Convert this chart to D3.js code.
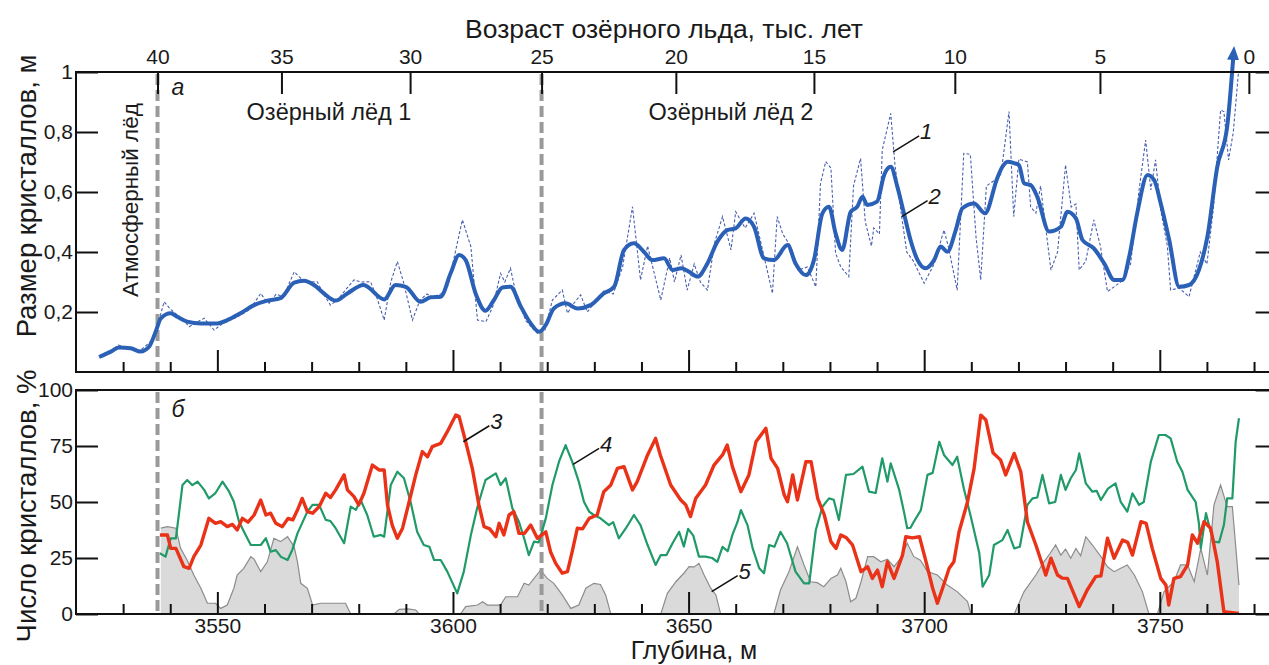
<!DOCTYPE html>
<html><head><meta charset="utf-8">
<script src="https://cdn.jsdelivr.net/npm/d3@7"></script>
<style>html,body{margin:0;padding:0;background:#fff;}svg{display:block;font-family:"Liberation Sans",Arial,sans-serif;}</style>
</head><body>
<svg id="chart" width="1269" height="665"></svg>
<script>
// ---------- DATA ----------
// Age scale (thousand years) and the depths (m) at which those ages fall
const ageTicks  = [40, 35, 30, 25, 20, 15, 10, 5, 0];
const ageDepths = [3537.3, 3563.6, 3590.9, 3618.8, 3647.3, 3676.6, 3706.5, 3737.3, 3768.9];
const boundaryAges = [40, 25];

const majorDepthTicks = [3550, 3600, 3650, 3700, 3750];
const minorDepthTicks = [3530,3540,3560,3570,3580,3590,3610,3620,3630,3640,3660,3670,3680,3690,3710,3720,3730,3740,3760,3770];
const sizeTicks = [0.2, 0.4, 0.6, 0.8, 1];
const pctTicks = [0, 25, 50, 75, 100];

// Series 2: smoothed crystal size (m)
const smoothDepth = [3524.9,3527.4,3529.1,3531.6,3533.7,3535.5,3536.9,3538.0,3540.1,3541.5,3543.6,3546.5,3550.0,3552.1,3554.9,3557.8,3560.6,3563.4,3566.3,3568.4,3570.5,3572.6,3575.1,3577.6,3581.0,3585.4,3587.8,3590.0,3593.1,3595.3,3597.4,3599.5,3601.3,3602.7,3604.8,3606.9,3608.7,3610.5,3612.2,3614.4,3616.5,3618.3,3619.7,3621.4,3623.9,3626.4,3629.2,3632.0,3634.2,3636.3,3638.4,3640.5,3642.3,3644.8,3646.6,3648.5,3650.1,3651.9,3654.0,3656.1,3658.2,3660.0,3662.1,3663.9,3666.0,3668.1,3671.0,3672.7,3674.9,3676.6,3678.4,3679.8,3681.2,3682.6,3684.4,3685.8,3686.9,3687.9,3690.0,3691.5,3692.9,3694.3,3695.7,3697.1,3698.6,3700.3,3702.1,3703.5,3704.9,3706.7,3708.1,3710.6,3712.9,3715.5,3716.6,3717.7,3719.1,3720.1,3721.2,3722.6,3724.0,3726.5,3729.0,3730.4,3732.2,3733.6,3736.0,3738.2,3740.3,3742.1,3743.5,3745.2,3747.4,3748.8,3750.2,3752.0,3754.1,3756.2,3758.3,3760.1,3762.2,3764.3,3765.6];
const smoothSize  = [0.05,0.068,0.082,0.079,0.068,0.084,0.134,0.179,0.196,0.184,0.168,0.162,0.162,0.173,0.196,0.223,0.238,0.246,0.298,0.304,0.29,0.262,0.238,0.262,0.29,0.242,0.29,0.284,0.234,0.249,0.251,0.329,0.39,0.373,0.262,0.204,0.24,0.282,0.284,0.218,0.162,0.134,0.157,0.212,0.229,0.212,0.223,0.262,0.284,0.407,0.429,0.401,0.373,0.379,0.34,0.346,0.334,0.318,0.362,0.434,0.473,0.479,0.512,0.484,0.379,0.373,0.423,0.362,0.323,0.373,0.529,0.551,0.462,0.407,0.534,0.551,0.584,0.557,0.568,0.657,0.684,0.618,0.529,0.44,0.373,0.346,0.373,0.418,0.401,0.473,0.546,0.562,0.529,0.646,0.684,0.701,0.696,0.69,0.629,0.623,0.584,0.468,0.484,0.534,0.512,0.44,0.412,0.362,0.307,0.307,0.384,0.529,0.657,0.64,0.562,0.44,0.284,0.29,0.34,0.451,0.684,0.818,1.05];

// Series 1: measured crystal size (m)
const rawDepth = [3525.5,3527.5,3529.0,3531.0,3533.5,3535.0,3536.5,3538.7,3540.0,3541.5,3543.0,3544.0,3545.5,3547.2,3549.3,3551.0,3553.0,3555.0,3557.0,3559.2,3560.2,3561.0,3562.5,3564.0,3566.3,3568.5,3570.0,3571.2,3572.5,3574.0,3575.5,3577.0,3579.0,3580.5,3582.5,3583.8,3585.4,3586.8,3588.2,3589.5,3591.4,3593.0,3594.5,3595.5,3597.4,3599.0,3600.5,3602.0,3603.8,3605.2,3607.0,3608.5,3610.1,3611.0,3612.2,3613.5,3615.5,3617.9,3619.5,3621.1,3623.2,3624.3,3625.7,3627.1,3628.5,3630.0,3632.0,3634.0,3636.0,3638.1,3639.8,3641.3,3644.1,3646.0,3647.0,3648.4,3649.7,3651.2,3652.5,3654.0,3655.5,3657.2,3659.0,3660.0,3662.0,3663.9,3665.8,3667.8,3668.8,3670.0,3671.6,3673.4,3675.2,3677.0,3678.0,3679.1,3680.2,3681.2,3682.3,3684.0,3685.0,3686.5,3687.5,3688.8,3689.3,3690.5,3691.1,3692.9,3693.8,3695.2,3696.3,3697.7,3700.0,3702.1,3704.2,3705.1,3707.0,3708.4,3709.8,3711.0,3712.0,3713.2,3715.0,3716.3,3718.0,3719.0,3720.1,3721.9,3722.6,3723.7,3724.7,3726.9,3728.3,3730.0,3731.2,3732.2,3732.9,3734.3,3736.0,3737.4,3738.9,3741.7,3743.8,3745.6,3747.0,3748.1,3749.1,3750.2,3751.6,3752.3,3754.1,3756.2,3758.6,3760.0,3761.4,3762.9,3763.6,3764.6,3765.6,3766.7];
const rawSize  = [0.05,0.07,0.09,0.08,0.07,0.09,0.11,0.234,0.21,0.19,0.17,0.151,0.165,0.179,0.14,0.16,0.175,0.19,0.21,0.262,0.24,0.229,0.26,0.25,0.334,0.30,0.30,0.301,0.26,0.223,0.24,0.27,0.307,0.30,0.301,0.25,0.173,0.30,0.368,0.30,0.173,0.24,0.26,0.25,0.26,0.29,0.40,0.507,0.418,0.173,0.168,0.22,0.329,0.30,0.346,0.25,0.17,0.129,0.14,0.24,0.273,0.196,0.23,0.257,0.20,0.23,0.27,0.26,0.35,0.551,0.307,0.42,0.24,0.38,0.30,0.39,0.273,0.36,0.30,0.273,0.43,0.518,0.407,0.534,0.48,0.529,0.40,0.262,0.518,0.46,0.42,0.34,0.35,0.284,0.629,0.701,0.68,0.396,0.35,0.318,0.62,0.712,0.50,0.42,0.48,0.46,0.74,0.862,0.69,0.52,0.40,0.37,0.296,0.36,0.473,0.42,0.273,0.729,0.725,0.45,0.307,0.62,0.64,0.66,0.868,0.518,0.71,0.70,0.55,0.53,0.62,0.34,0.40,0.69,0.55,0.56,0.34,0.37,0.507,0.42,0.268,0.30,0.36,0.607,0.773,0.607,0.707,0.54,0.42,0.273,0.28,0.251,0.40,0.36,0.55,0.873,0.868,0.707,0.80,1.0];

// Series 3 (red), %
const redDepth = [3537.8,3539.4,3540.1,3541.2,3542.9,3544.0,3545.0,3546.5,3548.2,3549.6,3550.7,3552.1,3553.2,3554.2,3555.3,3556.5,3557.8,3559.2,3560.3,3561.3,3562.4,3563.8,3565.0,3566.0,3567.0,3568.0,3569.1,3570.2,3571.6,3573.0,3574.0,3575.1,3576.9,3577.6,3579.0,3580.0,3581.1,3582.9,3584.3,3585.4,3586.1,3587.1,3588.2,3589.3,3590.7,3592.1,3593.5,3594.6,3595.6,3597.4,3598.8,3600.6,3601.3,3602.7,3604.1,3605.5,3606.6,3607.8,3609.1,3609.8,3610.8,3611.9,3612.9,3614.0,3615.2,3616.5,3617.9,3619.7,3620.7,3621.8,3623.2,3624.3,3625.3,3626.4,3627.5,3628.9,3630.6,3632.0,3633.5,3634.9,3636.3,3638.1,3639.1,3641.3,3643.0,3644.0,3646.2,3648.3,3649.4,3650.4,3651.5,3653.6,3655.4,3657.2,3658.2,3659.3,3661.1,3662.8,3664.3,3666.4,3667.5,3668.9,3670.3,3671.0,3672.1,3673.1,3674.9,3676.0,3677.4,3678.8,3680.2,3681.3,3682.3,3683.5,3684.8,3686.6,3688.0,3689.0,3690.1,3691.1,3692.2,3693.6,3695.4,3696.1,3697.5,3699.0,3700.4,3701.8,3702.8,3703.9,3705.3,3706.3,3707.4,3709.2,3710.6,3712.0,3713.1,3714.6,3716.2,3717.3,3719.1,3720.5,3721.9,3723.7,3725.8,3726.9,3728.3,3729.3,3730.4,3732.9,3734.6,3736.4,3737.5,3738.9,3740.3,3742.1,3743.2,3744.2,3746.0,3747.1,3748.4,3750.2,3751.3,3751.9,3753.0,3754.4,3755.9,3756.9,3758.0,3759.4,3760.8,3762.2,3763.6,3766.8];
const redPct   = [35.3,35.3,29.3,29.3,21.1,20.4,25.6,30.8,42.7,40.5,41.2,39,40,37.5,42.7,41,44.2,50.9,44.2,45,40.5,39,42.7,42,46.4,51.6,45.7,45,47.9,53.9,52,55.4,62.1,55.4,52.4,48.7,53.9,66.5,64.3,64.3,48.7,39.7,33.8,38.3,50.1,62.1,72.5,70.2,74.7,76.2,81.4,88.8,88.1,76.9,65,48.7,39,38,34.5,40.5,35.3,44.2,45.7,36,36,39.7,33.8,36.7,27.8,22.6,18.2,18.9,27.8,38.3,38,42.7,44.2,54.6,57.6,65,65.8,55.4,59.1,71,78.4,71,57.6,51,48.7,43.5,51.6,57.6,66.5,71,75.4,65.8,54.6,62.1,76.9,82.9,69.5,65,53.1,50.1,62.1,50.9,68,68,51.6,44.2,32.3,29.3,35.3,34,30.8,18.9,21.1,15.9,19.6,12.2,23.3,15.9,26.3,34.5,34,34.5,23.3,11.5,4.8,11.5,20.4,23.3,36.7,50.1,65,88.8,86.6,72,68.8,62.1,71.7,63.5,41.2,30.8,17.4,24.9,17.4,16,15.9,3.3,10.7,16.7,17,33.8,24.9,33,32,26.3,41.2,40.5,29.3,15.9,12.9,4,15.9,16.7,21.9,35.3,31.6,41.2,38.3,23.3,1,0.3];

// Series 4 (green), %
const greenDepth = [3537.8,3539.0,3540.1,3541.2,3542.6,3543.6,3544.7,3545.8,3547.2,3548.2,3549.6,3551.1,3552.5,3553.5,3554.6,3556.0,3557.1,3559.2,3560.3,3561.3,3562.4,3563.5,3564.9,3565.9,3567.0,3569.1,3570.2,3571.6,3573.0,3574.0,3575.1,3576.9,3578.3,3579.4,3580.4,3581.8,3583.2,3584.7,3585.4,3586.8,3588.2,3589.6,3591.0,3592.4,3593.8,3595.0,3596.0,3597.4,3598.8,3600.9,3602.3,3603.8,3605.2,3606.9,3609.1,3610.1,3611.2,3612.6,3614.0,3615.1,3616.1,3617.2,3618.2,3619.7,3621.1,3622.5,3623.9,3625.3,3626.7,3627.8,3628.9,3629.9,3631.3,3633.1,3634.0,3635.2,3636.7,3638.4,3639.8,3641.3,3643.0,3644.1,3645.3,3646.6,3648.0,3649.0,3649.9,3651.0,3652.2,3653.6,3655.0,3656.1,3657.2,3658.3,3659.3,3660.4,3661.1,3662.5,3663.6,3665.0,3666.0,3667.1,3668.2,3669.5,3670.9,3672.7,3674.5,3675.6,3677.0,3678.4,3679.8,3680.8,3681.9,3683.4,3685.0,3686.9,3688.3,3689.7,3691.1,3692.2,3692.9,3694.7,3695.7,3696.4,3697.1,3697.8,3699.3,3700.7,3701.8,3703.2,3704.2,3706.0,3707.0,3708.4,3709.9,3711.7,3712.4,3713.8,3714.8,3716.6,3717.7,3719.1,3720.3,3721.9,3723.0,3724.0,3725.1,3726.5,3727.8,3729.0,3730.0,3731.1,3732.2,3732.9,3734.3,3735.7,3736.6,3737.5,3739.0,3740.6,3741.7,3743.1,3744.2,3745.6,3746.6,3748.1,3749.8,3751.2,3752.3,3753.7,3754.8,3755.9,3757.6,3758.3,3758.7,3759.8,3760.8,3761.5,3762.6,3763.6,3764.3,3765.4,3766.1,3766.8];
const greenPct   = [27.1,25.6,33.8,33.8,57.6,59.8,57.5,59.1,55.4,51.6,54,59.1,54.6,50.1,41.2,35.3,30.8,30.8,33.8,27.8,28.5,25.5,24.1,28.6,36,45.7,48.7,48.7,42,41.5,38.3,31.6,47.9,46.5,50.9,44.2,34.5,35.3,34.5,57.6,63.5,60.6,50.1,36.7,30.8,30,24.1,24.1,18.9,9.2,18.9,35.3,47.9,59.8,62.8,57.6,60.6,47.2,41.2,33.8,26.3,32.3,32,42.7,57.6,68,75.4,68,59.1,50.1,45.7,44.2,42.7,39.7,41,33.8,38.3,44.2,39.7,30.8,21.9,26.3,26.3,31.6,36.7,30.1,38,35,25.6,25.6,25,23.3,30,28,35.3,41.2,46.4,39.7,29.3,20.4,18.2,30.8,30,36.7,31.6,18.9,13.7,13.7,37.5,47.9,51.6,51,42,62.1,62.5,65.8,54.6,54,69.5,59.1,67.3,55.4,45.7,38.3,38.5,41.2,46.4,62.1,63,76.9,71,66.5,70.2,56.1,43.4,27.1,12.2,17.4,30.8,33,37.5,29.3,30,48.7,51.6,52,62.1,49.4,50,62.1,55.4,60.6,64.3,71.7,58.3,54.6,55,50.9,56,58.3,50.1,45.7,53.9,48.7,50,68,79.9,79.9,78.4,68,63.5,55.4,50.1,40.5,29.3,45,36.7,32.3,32,39.7,51.6,51.6,76.9,87.4];

// Series 5 (grey area), %
const greyDepth = [3538.0,3539.4,3541.2,3542.2,3543.6,3545.0,3546.5,3547.9,3549.6,3550.7,3552.1,3553.5,3554.2,3555.6,3557.1,3557.8,3559.2,3560.6,3562.0,3563.4,3564.9,3566.3,3567.0,3567.7,3569.1,3570.2,3571.9,3574.7,3577.2,3578.3,3587.5,3588.6,3590.4,3592.1,3592.8,3601.6,3602.7,3605.2,3606.3,3607.3,3610.1,3611.2,3613.7,3615.1,3616.1,3617.2,3618.6,3620.0,3621.4,3623.2,3625.0,3626.7,3628.2,3629.9,3631.3,3632.4,3633.5,3644.1,3645.5,3647.3,3649.0,3650.1,3651.2,3652.2,3653.3,3654.7,3655.8,3656.8,3668.1,3669.5,3671.3,3673.1,3674.5,3675.9,3677.3,3678.7,3680.2,3681.6,3682.3,3683.4,3684.4,3685.5,3686.6,3688.0,3689.3,3690.8,3692.2,3693.6,3695.0,3696.4,3697.8,3699.2,3700.7,3702.8,3704.9,3707.0,3709.2,3709.9,3719.1,3721.2,3723.7,3725.4,3726.7,3727.9,3729.0,3730.0,3731.1,3732.2,3733.2,3734.3,3735.7,3737.5,3738.9,3740.3,3741.7,3743.1,3744.6,3746.3,3747.7,3749.5,3750.9,3753.0,3754.4,3755.9,3757.3,3758.7,3760.1,3761.5,3762.9,3764.3,3765.4,3766.8];
const greyPct   = [38.3,39,38.3,29.3,24,17.4,11.5,4.8,4.8,2.5,4,11.5,17.4,20.4,25.6,24.5,18.9,23.3,33.8,32.3,34.5,30,23.3,13.7,11.5,4,4.8,4.8,4.8,0,0,2.1,2.3,1.8,0,0,3.3,4,5.5,4,4,7.7,7.7,13.7,12.9,15.9,19.6,15.9,13.7,8.5,2.5,4,11.5,13.7,13.2,8.5,0,0,9.2,14.4,18.2,21.1,21,22.6,17.4,11.5,8.5,0,0,10.7,18.9,30,21.9,14.4,14,12.2,15.9,17.4,20.4,14.4,5.5,7,14.4,25.6,25.6,23.3,24.5,21.1,24.9,31.6,25.6,24,18.9,17.4,12.9,10,5.5,0,0,10,17.4,23.3,27,30.8,26.3,29,24.9,29.3,26,34.5,30.8,25.6,21.1,18.9,20.4,21.9,17.4,10,0,0,10,14.4,21.9,21.9,14.4,29.3,17.4,48.7,57.6,47.9,47.9,12.9];

// ---------- DRAWING ----------
const svg = d3.select("#chart");
const FONT = '"Liberation Sans",Arial,sans-serif';

const x = d3.scaleLinear().domain([3520, 3775]).range([76, 1277.6]);
const yTop = d3.scaleLinear().domain([0, 1]).range([372, 72]);
const yBot = d3.scaleLinear().domain([0, 100]).range([614, 390]);
const ageX = a => x(ageDepths[ageTicks.indexOf(a)]);

const fmt = v => String(v).replace(".", ",");

function styleAxis(g, fs) {
  g.select(".domain").remove();
  g.selectAll(".tick line").attr("stroke", "#111").attr("stroke-width", 2);
  g.selectAll(".tick text").attr("fill", "#1a1a1a").style("font-size", fs + "px").style("font-family", FONT);
}

const pts = (ds, vs) => ds.map((d, i) => [d, vs[i]]);

// --- Bottom panel content ---
svg.append("path")
  .datum(pts(greyDepth, greyPct))
  .attr("d", d3.area().x(d => x(d[0])).y0(yBot(0)).y1(d => yBot(d[1])))
  .attr("fill", "#dadada");
svg.append("path")
  .datum(pts(greyDepth, greyPct))
  .attr("d", d3.line().x(d => x(d[0])).y(d => yBot(d[1])))
  .attr("fill", "none").attr("stroke", "#8c8c8c").attr("stroke-width", 1.2);

// dashed boundaries
boundaryAges.forEach(a => {
  [[yTop(1), yTop(0)], [yBot(100), yBot(0)]].forEach(([y1, y2]) => {
    svg.append("line").attr("x1", ageX(a)).attr("x2", ageX(a)).attr("y1", y1 + 2).attr("y2", y2 - 1)
      .attr("stroke", "#9a9a9a").attr("stroke-width", 4).attr("stroke-dasharray", "11,5");
  });
});

svg.append("path")
  .datum(pts(greenDepth, greenPct))
  .attr("d", d3.line().x(d => x(d[0])).y(d => yBot(d[1])))
  .attr("fill", "none").attr("stroke", "#1f9a68").attr("stroke-width", 2.2).attr("stroke-linejoin", "round");
svg.append("path")
  .datum(pts(redDepth, redPct))
  .attr("d", d3.line().x(d => x(d[0])).y(d => yBot(d[1])))
  .attr("fill", "none").attr("stroke", "#ea3219").attr("stroke-width", 3.4).attr("stroke-linejoin", "round");

// --- Top panel content ---
svg.append("path")
  .datum(pts(rawDepth, rawSize))
  .attr("d", d3.line().x(d => x(d[0])).y(d => yTop(d[1])))
  .attr("fill", "none").attr("stroke", "#4a5fb0").attr("stroke-width", 1.1).attr("stroke-dasharray", "3,2");

svg.append("defs").append("marker")
  .attr("id", "arrow").attr("viewBox", "0 -6 14 12").attr("refX", 3).attr("refY", 0)
  .attr("markerWidth", 14).attr("markerHeight", 12).attr("markerUnits", "userSpaceOnUse")
  .attr("orient", "auto")
  .append("path").attr("d", "M0,-6L14,0L0,6Z").attr("fill", "#2a60b6");

svg.append("path")
  .datum(pts(smoothDepth, smoothSize))
  .attr("d", d3.line().curve(d3.curveMonotoneX).x(d => x(d[0])).y(d => yTop(d[1])))
  .attr("fill", "none").attr("stroke", "#2a60b6").attr("stroke-width", 4).attr("stroke-linejoin", "round")
  .attr("marker-end", "url(#arrow)");

// --- Frames ---
[[yTop(1), yTop(0)], [yBot(100), yBot(0)]].forEach(([t, b]) => {
  svg.append("rect").attr("x", x(3520)).attr("y", t).attr("width", x(3775) - x(3520)).attr("height", b - t)
    .attr("fill", "none").attr("stroke", "#111").attr("stroke-width", 2);
});

// --- Axes ---
svg.append("g").attr("transform", `translate(0,${yTop(1)})`)
  .call(d3.axisTop(x).tickValues(ageDepths).tickSizeInner(-22).tickSizeOuter(0).tickPadding(8)
    .tickFormat((d, i) => ageTicks[i]))
  .call(g => styleAxis(g, 21));

[yTop(0), yBot(0)].forEach((yy, k) => {
  svg.append("g").attr("transform", `translate(0,${yy})`)
    .call(d3.axisBottom(x).tickValues(minorDepthTicks).tickSizeInner(-10).tickSizeOuter(0).tickFormat(""))
    .call(g => styleAxis(g, 21));
  svg.append("g").attr("transform", `translate(0,${yy})`)
    .call(d3.axisBottom(x).tickValues(majorDepthTicks).tickSizeInner(-22).tickSizeOuter(0).tickPadding(4)
      .tickFormat(k === 1 ? d3.format("d") : ""))
    .call(g => styleAxis(g, 21));
});

svg.append("g").attr("transform", `translate(${x(3520)},0)`)
  .call(d3.axisLeft(yTop).tickValues(sizeTicks).tickSizeInner(-22).tickSizeOuter(0).tickPadding(3).tickFormat(fmt))
  .call(g => styleAxis(g, 21));
svg.append("g").attr("transform", `translate(${x(3775)},0)`)
  .call(d3.axisRight(yTop).tickValues(sizeTicks).tickSizeInner(-22).tickSizeOuter(0).tickFormat(""))
  .call(g => styleAxis(g, 21));
svg.append("g").attr("transform", `translate(${x(3520)},0)`)
  .call(d3.axisLeft(yBot).tickValues(pctTicks).tickSizeInner(-22).tickSizeOuter(0).tickPadding(3))
  .call(g => styleAxis(g, 21));
svg.append("g").attr("transform", `translate(${x(3775)},0)`)
  .call(d3.axisRight(yBot).tickValues(pctTicks).tickSizeInner(-22).tickSizeOuter(0).tickFormat(""))
  .call(g => styleAxis(g, 21));

// --- Titles ---
const txt = (s, px, py, fs, opts = {}) => {
  const t = svg.append("text").attr("x", px).attr("y", py).text(s)
    .style("font-family", FONT).style("font-size", fs + "px").attr("fill", "#1a1a1a")
    .attr("text-anchor", opts.anchor || "middle").attr("dominant-baseline", "central");
  if (opts.italic) t.style("font-style", "italic");
  if (opts.rotate) t.attr("transform", `rotate(-90,${px},${py})`);
  return t;
};
txt("Возраст озёрного льда, тыс. лет", 664, 29, 26.5);
txt("Глубина, м", 694, 649.5, 25);
txt("Размер кристаллов, м", 26, 196, 27.5, { rotate: true });
txt("Число кристаллов, %", 26, 506, 27.5, { rotate: true });

txt("Атмосферный лёд", 130, 200, 22.5, { rotate: true });
txt("Озёрный лёд 1", 329, 112, 23.5);
txt("Озёрный лёд 2", 731, 112, 23.5);
txt("а", 178, 87, 23, { italic: true });
txt("б", 178, 409, 23, { italic: true });

// --- Numbered leaders ---
const leaders = [
  { n: "1", d: 3693.4, v: 0.734, s: yTop },
  { n: "2", d: 3695.2, v: 0.518, s: yTop },
  { n: "3", d: 3602.2, v: 76.9, s: yBot },
  { n: "4", d: 3625.5, v: 66.8, s: yBot },
  { n: "5", d: 3654.9, v: 10.0, s: yBot }
];
leaders.forEach(L => {
  const ax = x(L.d), ay = L.s(L.v);
  svg.append("line").attr("x1", ax).attr("y1", ay).attr("x2", ax + 26).attr("y2", ay - 16)
    .attr("stroke", "#111").attr("stroke-width", 1.5);
  txt(L.n, ax + 33, ay - 20, 22, { italic: true });
});
</script>
</body></html>
